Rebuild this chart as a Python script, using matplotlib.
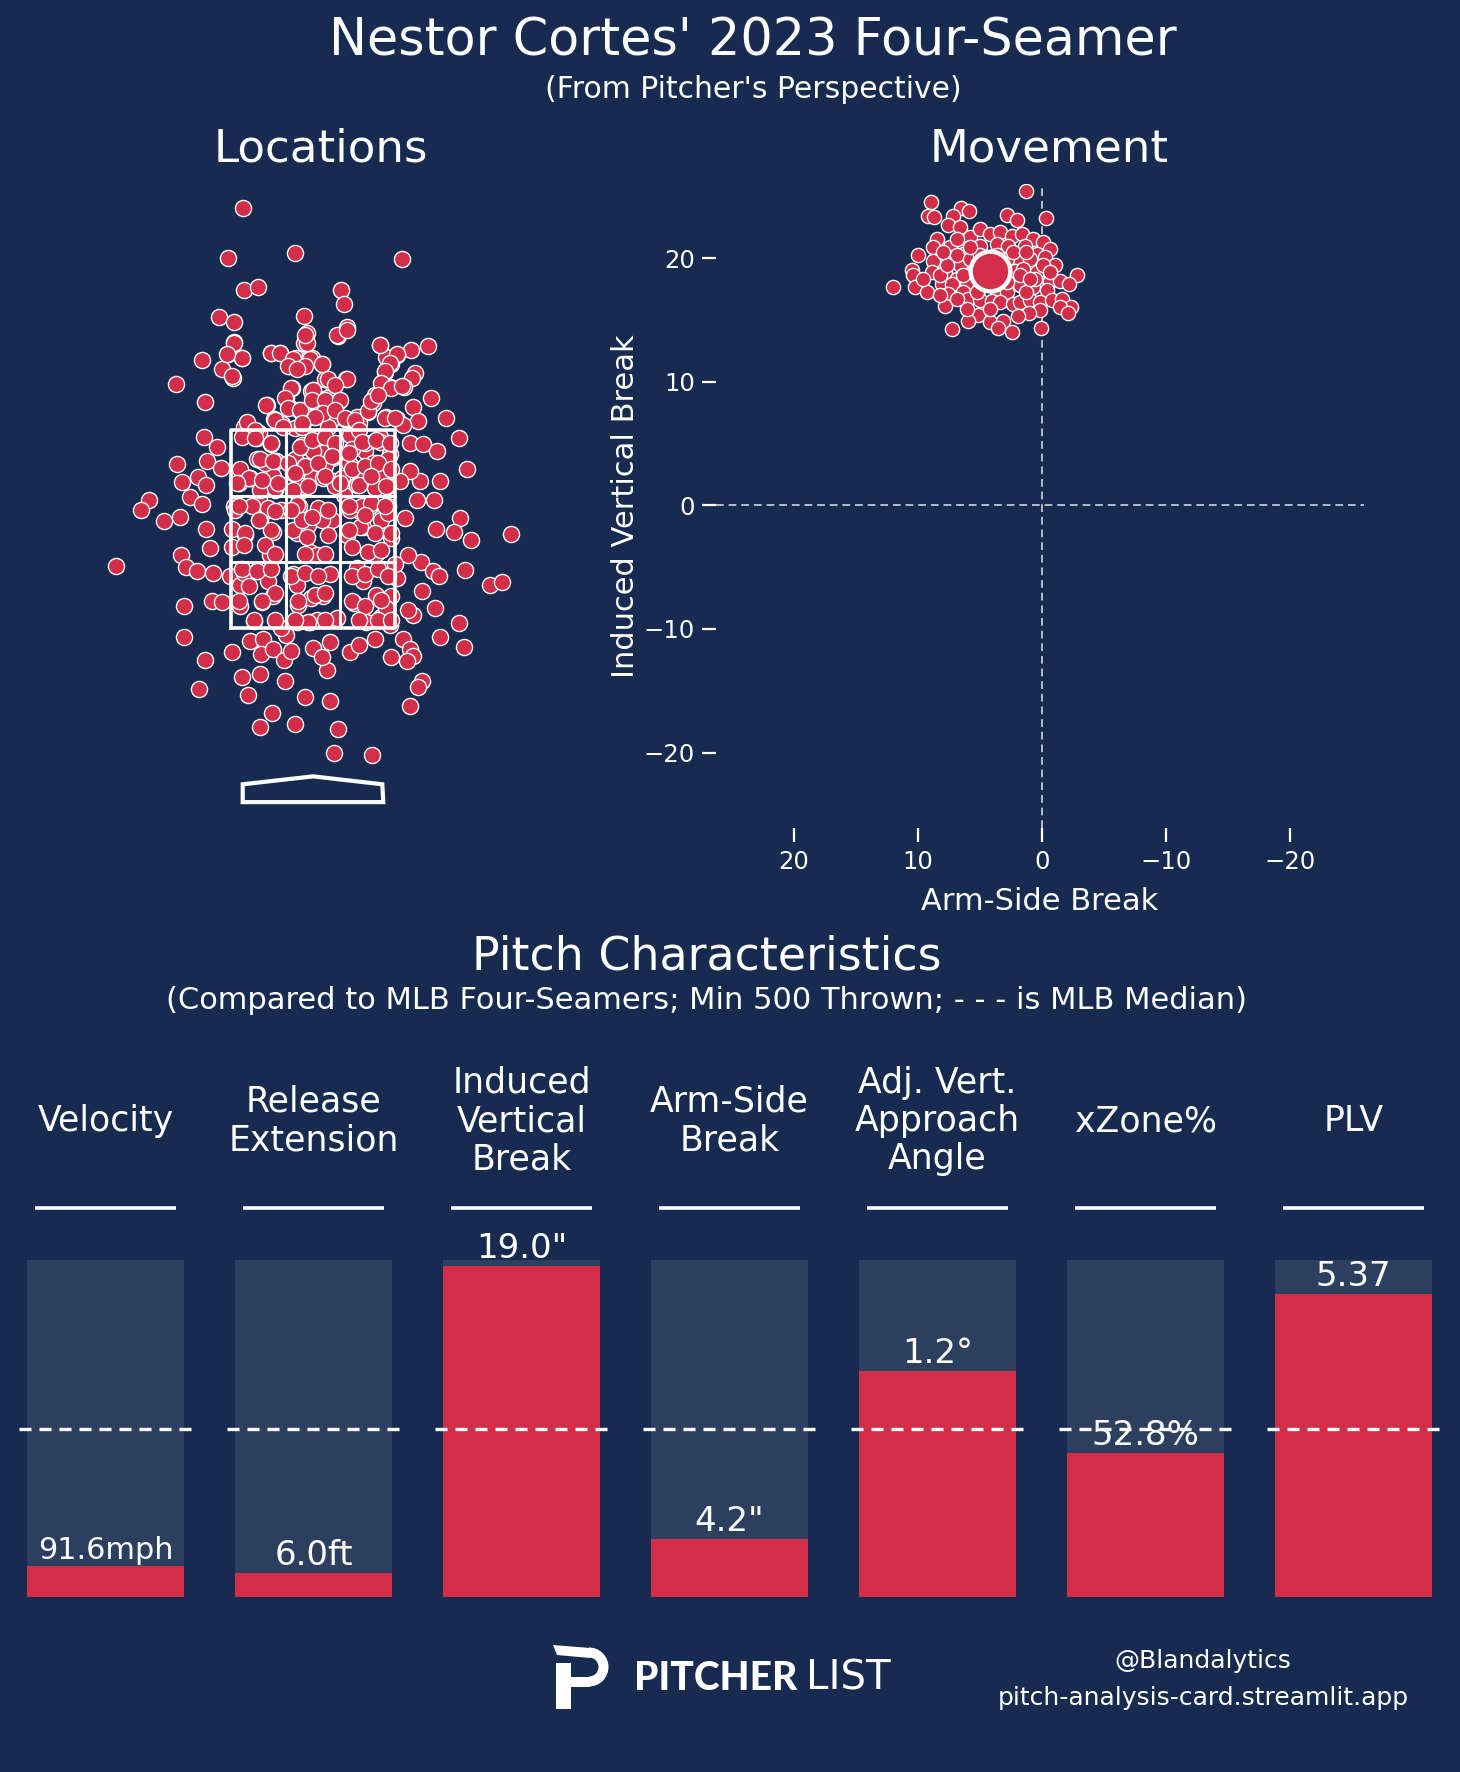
import numpy as np
import matplotlib
matplotlib.use("Agg")
import matplotlib.pyplot as plt
from matplotlib.patches import Polygon, Rectangle, Wedge

# pitch locations (ft, pitcher's view)
loc_x = [-0.71, -0.86, -0.18, -0.70, -0.56, -0.95, -0.80, -0.09, -0.80, -0.06,
         -0.09, -0.86, -0.72, -1.12, -0.92, -0.81, -0.42, -0.33, -0.17, -0.04,
         -0.24, -1.38, -1.09, -0.21, -0.02, -0.46, -0.27, -0.24, -0.14, -0.39,
         -0.31, -0.67, -0.03, -1.10, -0.97, -1.37, -1.07, -0.93, -1.32, -1.16,
         -1.08, -0.71, -0.42, -0.11, -0.18, -0.52, -0.37, -0.20, -0.10, -0.65,
         -0.40, -0.18, -0.05, -0.57,
         0.90, 0.28, 0.31, 0.34, 0.25, 0.68, 1.16, 0.99, 0.85, 0.74,
         0.79, 0.09, -0.01, 0.73, 1.03, 1.00, 0.33, 0.20, 0.12, 0.71,
         0.92, 0.78, 0.00, 1.19, 0.63, 0.61, 0.14, 0.26, 1.01, 0.56,
         1.34, 1.06, 0.74, 0.85, 0.91, 0.32, 0.17, 0.02, 0.44, 1.47,
         0.98, 1.11, 1.25, 0.64, 0.53, 0.53, 0.19, 0.78, 1.56, 1.28,
         1.08, 0.98, 0.64, 0.41, 0.58, 0.78, 0.07, 0.07, 0.31, 0.21,
         0.88, 0.37, 0.68, 0.04,
         -1.66, -1.74, -1.51, -1.34, -1.24, -1.12,
         -1.08, -0.82, -1.04, -0.82, -1.33, -1.28, -1.17, -1.01, -1.99, -0.84,
         -1.02, -1.30, -0.92, -1.30, -1.09, -0.82, -1.15, -0.72, -0.54, -0.66,
         -0.28, -0.41, -0.54, -0.18, -0.08, -0.64, -0.51, -0.53, -0.40, -0.29,
         -0.22, 0.00, -0.27, -0.60, -0.74, -0.52, -0.40, -0.74, -0.57, -0.45,
         -0.70, -0.16, -0.20, -0.15, -0.02, -0.03, -0.16, -0.32, -0.69, -0.54,
         -0.40, -0.43, -0.16, -0.03, -0.55, -0.38, -0.45, -0.14, -0.05, -0.80,
         -0.13, -0.32,
         1.48, 1.42, 1.60, 1.24, 2.00, 1.54, 1.79, 1.91, 1.09, 1.21,
         1.27, 1.10, 0.96, 1.05, 1.22, 1.23, 1.01, 0.96, 1.47, 1.28,
         1.53, 0.91, 0.98, 1.01, 0.79, 0.95, 1.10, 1.06, 0.98, 0.17,
         0.25, 0.21, 0.60, 0.14, 0.09, 0.17, 0.37, 0.46, 0.63, 0.78,
         0.69, 0.41, 0.10, 0.64, 0.79, 0.51, 0.17, 0.44, 0.04, 0.64,
         0.34, 0.51, 0.19, 0.07, 0.58, 0.76, 0.93, 0.79, 0.47, 0.85,
         0.24, 0.04, 0.54, 0.74, 0.31, 0.83,
         -0.42, -0.57, -0.37, -0.48, -0.74, -0.64, -0.54, -0.38, -0.75,
         -0.11, 0.07, 0.00, 0.19, -0.18, -0.08, 0.12, -0.20, -0.01, 0.10,
         0.29, -0.11, 0.22, -0.20,
         0.39, 0.53, 0.68, 0.36, 0.61, 0.76, 0.53, 0.69, 0.44, 0.63, 0.76,
         -0.70, -0.55, -0.11, 0.15, 0.46,
         -0.79, -0.62, -0.45, -0.69, -0.55, -0.42, -0.70, -0.48, -0.38,
         -0.20, -0.11, 0.09, 0.15, -0.06, 0.05, -0.16, 0.12, -0.08,
         0.37, 0.49, 0.59, 0.69, 0.76, 0.47, 0.36, 0.63, 0.39, 0.56, 0.69, 0.79,
         -0.72, -0.57, -0.42, -0.65, -0.38, -0.75, -0.52, -0.60, -0.38,
         -0.22, -0.08, 0.05, -0.15, 0.02, 0.12, 0.12, -0.05, -0.18,
         0.39, 0.53, 0.66, 0.76, 0.39, 0.53, 0.69, 0.46, 0.66, 0.79,
         -0.80, -0.72, -0.82, -0.87, -0.42, -0.33, -0.20, -0.25, -0.03, 0.09,
         -0.08, -0.16, -0.06, -0.08, 0.24, 0.34, 0.68, 0.85, 0.78, 0.73,
         0.69, 0.79, 0.90, 0.15, 0.34, 0.22, -0.22, -0.28, -0.25, -0.13,
         -0.47, 0.00, -0.01, 0.12, 0.27, 0.10, 0.02, 0.22, 0.32, 0.42,
         0.56, 0.59, 0.66, 0.73, 0.83, -0.67, -0.59, -0.38, -0.30, -0.11,
         0.46,
         -0.72, -0.59, -0.42, -0.13, -0.01, 0.12, 0.22, 0.36, 0.49, 0.64,
         0.78, -0.54, -0.40, -0.25, -0.08, 0.05, 0.19, 0.39, 0.53, 0.66,
         0.79, -0.65, -0.52, -0.35, -0.18, -0.05, 0.12, 0.27, 0.46, 0.59,
         0.74, -0.77, -0.75, -0.55, -0.38, -0.22, -0.01, 0.15, 0.36, 0.53,
         0.73]
loc_z = [5.74, 5.23, 5.28, 4.91, 4.94, 4.64, 4.59, 4.65, 4.39, 4.48,
         4.38, 4.26, 4.22, 4.20, 4.11, 4.02, 4.27, 4.27, 4.22, 4.22,
         4.14, 3.96, 3.78, 3.92, 3.89, 3.75, 3.82, 3.73, 3.70, 3.61,
         3.56, 3.57, 3.63, 3.43, 3.33, 3.15, 3.18, 3.11, 2.97, 3.02,
         2.94, 3.44, 3.36, 3.33, 3.52, 3.18, 3.18, 3.18, 3.11, 3.01,
         3.03, 3.05, 2.98, 3.42,
         5.22, 4.91, 4.77, 4.54, 4.45, 4.36, 4.35, 4.30, 4.25, 4.23,
         4.16, 4.16, 4.22, 4.08, 4.07, 4.02, 4.01, 3.95, 4.01, 3.95,
         3.93, 3.93, 3.90, 3.82, 3.85, 3.77, 3.82, 3.79, 3.73, 3.68,
         3.62, 3.59, 3.63, 3.61, 3.55, 3.61, 3.58, 3.63, 3.63, 3.42,
         3.37, 3.36, 3.28, 3.40, 3.37, 3.28, 3.21, 3.25, 3.10, 2.98,
         2.98, 3.08, 3.16, 3.11, 3.03, 3.06, 3.31, 3.08, 3.21, 2.98,
         2.98, 3.45, 3.43, 3.43,
         2.79, 2.69, 2.58, 2.62, 2.82, 2.75,
         2.50, 2.50, 2.31, 2.32, 2.24, 2.11, 2.07, 2.05, 2.12, 2.02,
         1.77, 1.72, 1.76, 1.41, 1.17, 1.26, 0.88, 1.00, 1.03, 0.82,
         0.96, 0.64, 0.50, 0.53, 0.80, 1.37, 1.39, 1.24, 1.29, 1.17,
         1.27, 1.30, 1.43, 1.57, 1.72, 1.76, 1.82, 1.93, 2.07, 1.97,
         2.05, 1.93, 2.04, 1.73, 1.80, 1.56, 1.56, 1.50, 2.44, 2.59,
         2.47, 2.24, 2.46, 2.27, 2.79, 2.89, 2.69, 2.73, 2.54, 2.73,
         2.88, 2.69,
         2.61, 2.47, 2.39, 2.50, 2.45, 2.08, 1.93, 1.96, 2.16, 2.07,
         2.02, 1.87, 2.24, 2.79, 2.79, 1.70, 1.63, 1.68, 1.55, 1.41,
         1.31, 1.39, 1.29, 1.22, 1.21, 1.16, 0.96, 0.90, 0.71, 0.76,
         0.48, 0.24, 0.22, 1.07, 1.21, 1.36, 1.26, 1.33, 1.39, 1.53,
         1.61, 1.75, 1.82, 1.83, 1.82, 1.97, 2.04, 2.10, 2.24, 2.25,
         2.44, 2.52, 2.59, 2.61, 2.73, 2.73, 2.61, 2.41, 2.68, 2.00,
         1.60, 1.58, 1.56, 1.70, 2.84, 2.14,
         3.37, 3.20, 3.18, 3.16, 3.10, 3.01, 2.89, 2.91, 2.96,
         3.35, 3.43, 3.28, 3.23, 3.20, 3.13, 3.13, 3.06, 3.01, 3.01,
         3.01, 2.93, 2.93, 2.89,
         3.31, 3.37, 3.38, 3.16, 3.16, 3.20, 3.03, 3.06, 2.94, 2.91, 2.93,
         3.53, 3.47, 3.53, 3.53, 3.57,
         2.69, 2.73, 2.71, 2.46, 2.59, 2.49, 2.34, 2.34, 2.25,
         2.49, 2.59, 2.59, 2.44, 2.42, 2.71, 2.74, 2.25, 2.25,
         2.69, 2.73, 2.76, 2.59, 2.66, 2.52, 2.49, 2.46, 2.32, 2.27, 2.29, 2.46,
         2.09, 2.07, 2.09, 1.92, 1.85, 1.77, 1.77, 1.58, 1.58,
         2.02, 2.05, 2.02, 1.77, 1.83, 1.85, 1.58, 1.56, 1.58,
         2.02, 2.04, 2.09, 2.02, 1.77, 1.72, 1.78, 1.58, 1.58, 1.58,
         4.38, 4.22, 4.04, 4.26, 4.27, 4.27, 4.21, 4.14, 4.21, 4.16,
         4.14, 4.11, 4.38, 4.46, 4.46, 4.51, 4.36, 4.26, 4.17, 4.09,
         3.97, 3.92, 3.94, 4.01, 4.01, 3.95, 3.92, 3.82, 3.72, 3.70,
         3.75, 3.90, 3.80, 3.80, 3.80, 3.67, 3.63, 3.70, 3.62, 3.60,
         3.69, 3.79, 3.85, 3.62, 3.62, 3.58, 3.50, 3.60, 3.53, 3.57,
         3.50,
         3.43, 3.42, 3.37, 3.33, 3.40, 3.43, 3.37, 3.26, 3.38, 3.40,
         3.37, 3.20, 3.18, 3.16, 3.13, 3.16, 3.23, 3.10, 3.13, 3.16,
         3.10, 3.01, 2.99, 2.96, 3.06, 2.93, 3.03, 2.96, 2.94, 3.03,
         2.93, 2.96, 2.73, 2.59, 2.68, 2.69, 2.62, 2.69, 2.73, 2.64,
         2.73]

# strike zone and plate (ft)
zone_x = [-0.83, 0.83]
zone_z = [1.5, 3.5]
plate_pts = [(-0.71, -0.26), (0.71, -0.26), (0.70, -0.08), (0.0, 0.0), (-0.71, -0.08)]

# movement (inches): arm-side break, induced vertical break
mov_hb = [1.32, 8.98, 9.17, 8.71, 6.56, 5.86, 7.15, 2.85, 2.04, -0.32,
          7.55, 6.61, 5.81, 5.00, 4.19, 3.39, 2.45, 1.64, 0.70, -0.11,
          -0.65, 8.49, 8.76, 7.42, 6.34, 5.00, 3.66, 2.72, 1.37, 0.43,
          9.97, 8.76, 7.55, 6.61, 1.77, 0.97, -0.24, -1.05, 10.51, 10.38,
          8.90, 7.82, 6.88, 6.08, 2.18, 1.51, 0.43, -0.65, -1.45, -2.85,
          -2.20, 11.99, 10.24, 9.30, 8.09, 7.28, 7.55, 6.34, 5.00, 3.66,
          2.85, 1.77, 0.70, -0.38, 7.82, 5.94, 5.00, 4.06, 3.39, 2.31,
          1.77, 0.97, 0.16, -0.78, -1.59, -2.39, -1.45, -2.12, 0.16, 1.02,
          5.13, 5.94, 4.19, 3.17, 1.91, 7.28, 3.52, 2.45, 0.03, 9.57,
          8.23, 5.54, 4.46,
          2.85, 3.39, 6.88, 5.81, 7.69, 2.85, 5.27, 1.24, 8.23, 4.19,
          6.34, 1.77, 0.56, 3.66, 5.00, 2.31, 5.81, 6.88, 7.96, 1.24,
          -0.11, -0.65, 6.08, 6.88, 0.97]
mov_ivb = [25.47, 24.58, 23.40, 23.32, 24.07, 23.85, 23.45, 23.50, 23.05, 23.23,
           22.70, 22.51, 21.70, 22.37, 21.97, 22.10, 21.83, 21.97, 21.56, 21.29,
           20.75, 21.56, 20.89, 20.89, 20.35, 21.02, 21.16, 21.02, 21.02, 20.35,
           20.27, 19.81, 20.08, 19.41, 19.81, 19.95, 20.08, 19.46, 19.08, 18.60,
           18.87, 18.87, 18.33, 17.79, 19.00, 19.14, 18.87, 18.19, 18.19, 18.65,
           17.92, 17.65, 17.65, 17.30, 17.92, 17.92, 17.12, 17.25, 17.65, 17.39,
           17.25, 17.79, 17.65, 17.39, 16.17, 16.66, 16.58, 16.50, 16.44, 16.31,
           16.44, 16.58, 16.44, 16.58, 16.71, 16.04, 16.04, 15.58, 15.77, 15.58,
           15.42, 14.91, 14.82, 14.88, 15.36, 14.23, 14.34, 14.02, 14.34, 18.33,
           18.60, 18.87, 18.33,
           19.95, 18.60, 20.22, 19.95, 19.41, 18.06, 17.25, 17.25, 16.98, 15.90,
           18.60, 18.60, 18.33, 20.22, 20.22, 20.49, 20.89, 21.56, 20.49, 20.49,
           19.41, 18.87, 15.90, 16.71, 18.33]
avg_hb = 4.2
avg_ivb = 19.0
mov_ticks = [20, 10, 0, -10, -20]

# pitch characteristics
metrics = ["Velocity", "Release\nExtension", "Induced\nVertical\nBreak",
           "Arm-Side\nBreak", "Adj. Vert.\nApproach\nAngle", "xZone%", "PLV"]
value_labels = ["91.6mph", "6.0ft", '19.0"', '4.2"', "1.2\u00b0", "52.8%", "5.37"]
percentiles = [0.092, 0.071, 0.982, 0.172, 0.671, 0.427, 0.899]
median_pct = 0.5

bg = "#172a4f"
bar_bg = "#2d3f5f"
red = "#d22d49"
W, H = 1460, 1772

plt.rcParams['font.family'] = ['DejaVu Sans']
fig = plt.figure(figsize=(W / 100, H / 100), dpi=100, facecolor=bg)


def box(left, top, right, bottom):
    # pixel box -> figure fraction rect
    return [left / W, 1 - bottom / H, (right - left) / W, (bottom - top) / H]


# titles
fig.text(753 / W, 1 - 42 / H, "Nestor Cortes' 2023 Four-Seamer", ha='center', va='center',
         fontsize=36.5, color='w')
fig.text(753 / W, 1 - 90 / H, "(From Pitcher's Perspective)", ha='center', va='center',
         fontsize=21.5, color='w')
fig.text(321 / W, 1 - 149 / H, "Locations", ha='center', va='center', fontsize=32.5, color='w')
fig.text(1049 / W, 1 - 149 / H, "Movement", ha='center', va='center', fontsize=32.5, color='w')

# locations
ax_loc = fig.add_axes(box(65, 190, 561, 815))
ax_loc.set_facecolor(bg)
ax_loc.scatter(loc_x, loc_z, s=135, color=red, edgecolors='w', linewidths=1, zorder=2)
l, r = zone_x
b, t = zone_z
ax_loc.plot([l, r, r, l, l], [b, b, t, t, b], color='w', lw=2.6, zorder=3)
for xi in np.linspace(l, r, 4)[1:-1]:
    ax_loc.plot([xi, xi], [b, t], color='w', lw=2.2, zorder=3)
for zi in np.linspace(b, t, 4)[1:-1]:
    ax_loc.plot([l, r], [zi, zi], color='w', lw=2.2, zorder=3)
ax_loc.add_patch(Polygon(plate_pts, closed=True, fill=False, ec='w', lw=3, zorder=3))
ax_loc.set_xlim(-2.505, 2.505)
ax_loc.set_ylim(-0.39, 5.92)
ax_loc.axis('off')

# movement
ax_mov = fig.add_axes(box(716, 184, 1364, 828))
ax_mov.set_facecolor(bg)
ax_mov.axhline(0, color='#b4bccb', ls=(0, (4, 2.5)), lw=1.4, zorder=1)
ax_mov.axvline(0, color='#b4bccb', ls=(0, (4, 2.5)), lw=1.4, zorder=1)
ax_mov.scatter(mov_hb, mov_ivb, s=105, color=red, edgecolors='w', linewidths=1, zorder=2)
ax_mov.scatter([avg_hb], [avg_ivb], s=820, color=red, edgecolors='w', linewidths=3.2, zorder=3)
ax_mov.set_xlim(26.3, -26.0)
ax_mov.set_ylim(-26.1, 26.0)
ax_mov.set_xticks(mov_ticks)
ax_mov.set_yticks(mov_ticks)
ax_mov.tick_params(colors='w', labelsize=17.5, length=10, width=1.6, pad=5)
ax_mov.tick_params(axis='x', pad=6)
for s in ax_mov.spines.values():
    s.set_visible(False)
ax_mov.set_xlabel("Arm-Side Break", fontsize=22, color='w', labelpad=9)
ax_mov.set_ylabel("Induced Vertical Break", fontsize=22, color='w', labelpad=3)

# pitch characteristics
fig.text(707 / W, 1 - 957 / H, "Pitch Characteristics", ha='center', va='center',
         fontsize=33, color='w')
fig.text(707 / W, 1 - 1000 / H,
         "(Compared to MLB Four-Seamers; Min 500 Thrown; - - - is MLB Median)",
         ha='center', va='center', fontsize=22, color='w')

ax_bar = fig.add_axes(box(1.5, 1260, 1457.5, 1597))
ax_bar.set_facecolor(bg)
xs = np.arange(len(metrics))
bar_w = 0.755
ax_bar.bar(xs, np.ones(len(xs)), width=bar_w, color=bar_bg, zorder=1)
ax_bar.bar(xs, percentiles, width=bar_w, color=red, zorder=2)
ax_bar.set_xlim(-0.5, len(xs) - 0.5)
ax_bar.set_ylim(0, 1)
ax_bar.axis('off')

renderer = fig.canvas.get_renderer()
bar_px = bar_w * 1456 / len(xs)
for i, (name, lab, p) in enumerate(zip(metrics, value_labels, percentiles)):
    ax_bar.plot([i - 0.418, i + 0.418], [median_pct, median_pct], color='w', lw=2.4,
                dashes=(3.6, 2.4), zorder=3)
    ax_bar.plot([i - 0.341, i + 0.341], [1.154, 1.154], color='w', lw=2.6,
                solid_capstyle='butt', clip_on=False)
    ax_bar.text(i, 1.412, name, ha='center', va='center', fontsize=25, color='w',
                linespacing=1.16, clip_on=False)
    txt = ax_bar.text(i, p + 0.004, lab, ha='center', va='bottom', fontsize=24.5,
                      color='w', zorder=4)
    wpx = txt.get_window_extent(renderer).width
    if wpx > 0.86 * bar_px:
        txt.set_fontsize(24.5 * 0.86 * bar_px / wpx)

# footer
ax_logo = fig.add_axes(box(545, 1635, 615, 1715))
ax_logo.set_xlim(545, 615)
ax_logo.set_ylim(1715, 1635)
ax_logo.axis('off')
ax_logo.add_patch(Rectangle((556, 1663), 15, 46, color='w', lw=0))
ax_logo.add_patch(Polygon([(553, 1645), (590, 1648), (590, 1658), (557, 1655)], color='w', lw=0))
ax_logo.add_patch(Wedge((589, 1667), 19.5, -90, 90, width=10, color='w', lw=0))
ax_logo.add_patch(Rectangle((556, 1676.5), 34, 10, color='w', lw=0))

fig.text(634 / W, 1 - 1679 / H, "PITCHER", ha='left', va='center', fontsize=28,
         color='w', family='Lato', weight='black')
fig.text(806 / W, 1 - 1679 / H, "LIST", ha='left', va='center', fontsize=29,
         color='w', family='DejaVu Sans')

fig.text(1203 / W, 1 - 1661 / H, "@Blandalytics", ha='center', va='center',
         fontsize=18, color='w')
fig.text(1203 / W, 1 - 1698 / H, "pitch-analysis-card.streamlit.app", ha='center',
         va='center', fontsize=18, color='w')

fig.savefig("out.png", dpi=100, facecolor=bg)
